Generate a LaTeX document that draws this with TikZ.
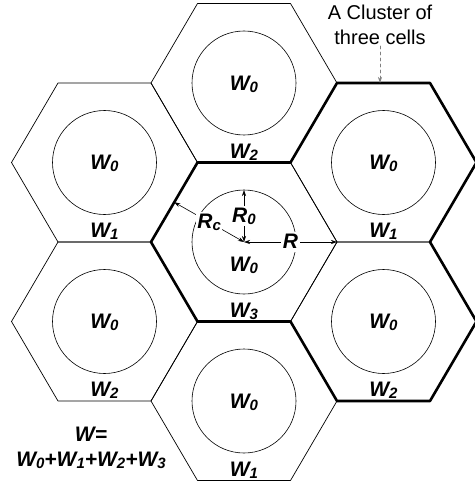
\documentclass[tikz,border=0pt]{standalone}
\usepackage{fontspec}
\setmainfont{Liberation Sans}
\usetikzlibrary{arrows.meta,calc}
\newcommand{\lbl}[2]{#1{\fontsize{15}{15}\selectfont\raisebox{-2pt}{#2}}}
\begin{document}
\begin{tikzpicture}[x=1pt,y=-1pt,line join=round,line cap=round,>={Stealth[length=6pt,width=4pt]}]
	\tikzset{cell/.style={line width=0.7pt},
		cluster/.style={line width=2.6pt},
		ring/.style={line width=0.6pt},
		lab/.style={font=\fontsize{21}{25}\selectfont\bfseries\itshape,inner sep=1pt},
		dim/.style={<->,line width=0.6pt},
		dimlab/.style={lab,fill=white,inner sep=1.5pt}}
	\def\R{93}\def\h{79.5}\def\rr{52}
	\useasboundingbox (0,0) rectangle (474,484);
	% cells: name / centre / lower label / shift of W0
	\foreach \n/\x/\y/\w/\d in {C/244/242/3/23, T/244/83/2/1, B/244/401/1/1,
		UL/104.5/162.5/1/1, LL/104.5/321.5/2/1, UR/383.5/162.5/1/1, LR/383.5/321.5/2/1}{
		\begin{scope}[shift={(\x,\y)}]
			\draw[cell] (\R,0) coordinate (\n-0) -- (\R/2,-\h) coordinate (\n-1)
			-- (-\R/2,-\h) coordinate (\n-2) -- (-\R,0) coordinate (\n-3)
			-- (-\R/2,\h) coordinate (\n-4) -- (\R/2,\h) coordinate (\n-5) -- cycle;
			\draw[ring] (0,0) coordinate (\n) circle[radius=\rr];
			\node[lab] (\n-w0) at (0,\d) {\lbl{W}{0}};
			\node[lab,anchor=south] (\n-w) at (0,\h-1) {\lbl{W}{\w}};
		\end{scope}
	}
	% the cluster of three cells
	\draw[cluster] (C-2) -- (C-1) -- (UR-2) -- (UR-1) -- (UR-0) -- (UR-5) -- (LR-0)
	-- (LR-5) -- (LR-4) -- (LR-3) -- (C-4) -- (C-3) -- cycle;
	% radii
	\coordinate (C-top) at ($(C)+(0,-\rr)$);
	\coordinate (C-mid) at ($(C-2)!0.5!(C-3)$);
	\draw[dim] (C) -- node[dimlab] (R0-lab) {\lbl{R}{0}} (C-top);
	\draw[dim] (C) -- node[dimlab] (R-lab) {\lbl{R}{}} (C-0);
	\draw[dim] (C) -- node[dimlab] (Rc-lab) {\lbl{R}{c}} (C-mid);
	% texts
	\node[lab,align=center] (sum) at (91,448) {W=\\\lbl{W}{0}+\lbl{W}{1}+\lbl{W}{2}+\lbl{W}{3}};
	\node[font=\fontsize{20}{25}\selectfont,align=center,inner sep=1pt] (clu) at (380,25) {A Cluster of\\three cells};
	\draw[->,dashed,gray,line width=0.7pt] (clu.south) -- (clu.south |- UR-1);
\end{tikzpicture}
\end{document}
